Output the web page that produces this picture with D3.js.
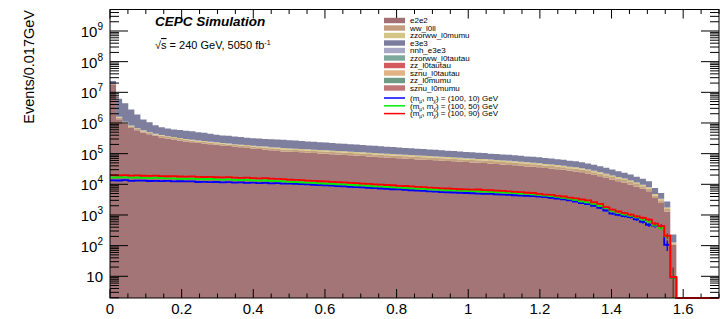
<!DOCTYPE html>
<html>
<head>
<meta charset="utf-8">
<script src="https://cdn.jsdelivr.net/npm/d3@7"></script>
<style>
  body { margin: 0; background: #fff; }
  text { font-family: "Liberation Sans", Arial, Helvetica, sans-serif; }
</style>
</head>
<body>
<div id="chart"></div>
<script>
// ---- data (bins of 0.017 GeV starting at 0, values listed for bins 0..92, rest empty) ----
const binWidth = 0.017;
const nBins = 100;

// backgrounds, in thousands of events per bin
const e2e2 = [18200, 1320, 955, 692, 575, 490, 427, 380, 339, 309, 288, 269, 251, 234, 224, 214, 204, 195, 186, 178,
  170, 162, 155, 148, 141, 135, 129, 123, 117.5, 115, 113, 110, 107, 104, 101, 98.5, 96, 93.5, 91, 88.5,
  86, 83.5, 81, 79, 76.5, 74.5, 72.5, 70.5, 68.5, 67, 65, 63.5, 62, 60.5, 59, 57.5, 56, 54.5, 53, 51.5,
  50, 49.3, 47, 46, 43.8, 42.9, 41.9, 40, 38.2, 37.3, 35.7, 34, 32.5, 31.1, 29.7, 27.7, 26.4, 24.7, 22.5, 20.5,
  18.3, 16.3, 14.2, 12.6, 11.3, 9.8, 8.4, 7.1, 5.9, 3.57, 2.47, 1.29, 0.107];
const ww_l0ll = [510, 160, 85, 84, 61, 51, 44, 40, 41, 38, 35, 33, 31, 29, 27, 26, 25, 23, 23, 22,
  20, 20, 22, 20, 20, 21, 20, 21, 20, 20, 19, 19, 18.6, 18.3, 18, 17.7, 17.4, 17.1, 16.8, 16.5,
  16.2, 15.9, 15.6, 15.3, 15, 14.7, 14.4, 14.1, 13.8, 13.5, 13.2, 12.9, 12.6, 12.3, 12, 11.7, 11.4, 11.1, 10.8, 10.5,
  10.5, 10.7, 10.2, 10, 9.5, 9.3, 9.1, 8.7, 8.3, 8.1, 7.7, 7.4, 7.1, 6.7, 6.4, 6, 5.8, 5.3, 4.9, 4.4,
  4, 3.5, 3.1, 2.8, 2.5, 2.2, 1.8, 1.6, 1.3, 0.77, 0.53, 0.28, 0.011];
const zzorww_l0mumu = [340, 105, 56, 56, 40, 34, 30, 27, 27, 25, 24, 22, 20, 19, 18, 17, 16, 16, 15, 14,
  14, 13, 14, 14, 13, 14, 13, 14, 14, 13, 13, 12.5, 12.4, 12.2, 12, 11.8, 11.6, 11.4, 11.2, 11,
  10.8, 10.6, 10.4, 10.2, 10, 9.8, 9.6, 9.4, 9.2, 9, 8.8, 8.6, 8.4, 8.2, 8, 7.8, 7.6, 7.4, 7.2, 7,
  7, 7.1, 6.8, 6.6, 6.4, 6.2, 6, 5.8, 5.5, 5.4, 5.2, 4.9, 4.7, 4.5, 4.3, 4, 3.8, 3.6, 3.2, 3,
  2.6, 2.4, 2, 1.8, 1.6, 1.4, 1.2, 1, 0.8, 0.52, 0.36, 0.19, 0.008];
const e3e3 = [4350, 4580, 3270, 1920, 1230, 715, 546, 404, 317, 289, 270, 265, 260, 255, 232, 222, 202, 183, 165, 166,
  159, 152, 140, 134, 135, 132, 133, 130, 131, 127, 122, 117.5, 113, 109.5, 105, 101, 97, 94, 90, 87,
  84, 81, 78, 75.5, 72.5, 70, 67.5, 65, 62.5, 60.5, 58, 56, 54, 52, 50, 48, 46, 44, 43, 41,
  39.5, 37.9, 36, 35.1, 33.6, 32.8, 32.1, 30.6, 29.3, 28.6, 27.3, 26.1, 24.9, 23.8, 22.7, 21.2, 20.2, 18.9, 17.3, 15.8,
  14, 12.5, 10.9, 9.7, 8.6, 7.5, 6.4, 5.4, 4.6, 2.73, 1.89, 0.99, 0.103];

// signal points, events per bin
const sig_100_10 = [13500, 13300, 13600, 12900, 13100, 13200, 12800, 13000, 12700, 12900, 12500, 12600, 12400, 12500, 11900, 12000, 11800, 11900, 11600, 11700,
  11400, 11500, 11200, 11300, 11000, 11100, 10800, 10900, 10600, 10500, 10300, 10100, 9900, 9600, 9400, 9200, 9000, 8700, 8500, 8300,
  8100, 7900, 7700, 7500, 7300, 7100, 6900, 6800, 6600, 6400, 6200, 6100, 5900, 5800, 5600, 5500, 5400, 5300, 5200, 5100,
  5000, 4900, 4850, 4700, 4600, 4500, 4400, 4300, 4200, 4100, 3950, 3850, 3600, 3450, 3250, 3000, 2750, 2450, 2250, 2000,
  1700, 1400, 1100, 1000, 920, 850, 720, 600, 480, 450, 420, 107, 9];
const sig_100_50 = [16600, 17000, 16800, 16400, 16700, 16200, 16000, 16300, 15800, 15500, 15700, 15200, 15000, 15300, 14800, 14600, 14900, 14400, 14200, 14400,
  13900, 13700, 13900, 13400, 13200, 13300, 12900, 12700, 12400, 12000, 11800, 11600, 11300, 11100, 10800, 10500, 10400, 10000, 9900, 9600,
  9300, 9200, 8900, 8600, 8500, 8200, 8000, 7800, 7700, 7400, 7200, 7100, 6900, 6700, 6600, 6400, 6300, 6250, 6100, 6000,
  5900, 5800, 5700, 5600, 5500, 5300, 5200, 5000, 4900, 4700, 4500, 4300, 4100, 3900, 3600, 3400, 3100, 2800, 2600, 2300,
  2000, 1700, 1350, 1200, 1050, 950, 850, 720, 620, 480, 380, 200, 9];
const sig_100_90 = [20000, 19600, 19900, 19300, 19500, 19000, 18800, 19100, 18500, 18300, 18600, 18000, 17800, 18100, 17500, 17300, 17600, 17000, 16800, 17100,
  16500, 16300, 16600, 15900, 15700, 15900, 15300, 15100, 14800, 14100, 13900, 13700, 13200, 13000, 12600, 12500, 12000, 11800, 11500, 11100,
  10900, 10500, 10300, 10000, 9800, 9500, 9300, 8900, 8800, 8500, 8300, 8100, 7800, 7700, 7400, 7300, 7100, 6900, 6800, 6700,
  6760, 6500, 6400, 6200, 6100, 5900, 5700, 5600, 5300, 5200, 4900, 4600, 4500, 4200, 4000, 3700, 3500, 3200, 3000, 2600,
  2300, 1800, 1500, 1300, 1150, 1020, 900, 800, 700, 520, 430, 210, 9.5];

// statistical errors of the signal bins in the tail (bins 80..92)
const errStartBin = 80;
const err_100_10 = [120, 110, 100, 100, 95, 90, 85, 80, 75, 70, 70, 40, 9];
const err_100_50 = [130, 120, 110, 100, 100, 95, 90, 85, 80, 70, 60, 45, 9];
const err_100_90 = [140, 125, 115, 110, 105, 100, 95, 90, 85, 75, 65, 45, 10];

const bgKeys = ["e2e2", "ww_l0ll", "zzorww_l0mumu", "e3e3"];
const bgArrays = { e2e2, ww_l0ll, zzorww_l0mumu, e3e3 };

// legend entries (all samples)
const legendNames = ["e2e2", "ww_l0ll", "zzorww_l0mumu", "e3e3", "nnh_e3e3", "zzorww_l0tautau",
  "zz_l0tautau", "sznu_l0tautau", "zz_l0mumu", "sznu_l0mumu"];
const legendColors = ["#a26f72", "#c39d7e", "#d3c585", "#7b7b9e", "#a9a7c6", "#7fa89c",
  "#d45b5b", "#e2b383", "#6f9b84", "#c07676"];
const sigLabels = ["(100, 10) GeV", "(100, 50) GeV", "(100, 90) GeV"];
const sigColors = ["#0000ff", "#00ee00", "#ff0000"];

const xTickLabels = ["0", "0.2", "0.4", "0.6", "0.8", "1", "1.2", "1.4", "1.6"];
const yTickExp = [1, 2, 3, 4, 5, 6, 7, 8, 9];

// colours of the filled stack (as they look in the plot)
const fillColor = { e2e2: "#a37576", ww_l0ll: "#c6a47f", zzorww_l0mumu: "#d6c68a", e3e3: "#7e7e9f" };

// ---- layout ----
const W = 720, H = 319;
const frame = { left: 110, right: 719, top: 9.5, bottom: 298 };

const svg = d3.select("#chart").append("svg")
  .attr("width", W).attr("height", H)
  .style("display", "block");

const x = d3.scaleLinear().domain([0, 1.7]).range([frame.left, frame.right]);
const y = d3.scaleLog().domain([1.96, 5.02e9]).range([frame.bottom, frame.top]).clamp(true);
const yc = v => v > 0 ? y(v) : frame.bottom;

svg.append("clipPath").attr("id", "frameclip")
  .append("rect")
  .attr("x", frame.left).attr("y", frame.top)
  .attr("width", frame.right - frame.left).attr("height", frame.bottom - frame.top + 1.5);

const plot = svg.append("g").attr("clip-path", "url(#frameclip)");

// stacked backgrounds
const nFilled = e2e2.length;
const rows = [];
for (let i = 0; i < nFilled; i++) {
  const r = { x0: i * binWidth };
  bgKeys.forEach(k => r[k] = bgArrays[k][i] * 1000);
  rows.push(r);
}
const stacked = d3.stack().keys(bgKeys)(rows);

const area = d3.area()
  .x(d => x(d.x))
  .y0(d => yc(d.lo))
  .y1(d => yc(d.hi))
  .curve(d3.curveStepAfter);

stacked.forEach(layer => {
  const pts = layer.map(d => ({ x: d.data.x0, lo: d[0], hi: d[1] }));
  const last = pts[pts.length - 1];
  pts.push({ x: last.x + binWidth, lo: last.lo, hi: last.hi });
  plot.append("path")
    .attr("d", area(pts))
    .attr("fill", fillColor[layer.key])
    .attr("stroke", "none");
});

// signal histograms (outline + tail error bars)
const line = d3.line()
  .x(d => x(d.x))
  .y(d => yc(d.v))
  .curve(d3.curveStepAfter);

const sigArrays = [sig_100_10, sig_100_50, sig_100_90];
const errArrays = [err_100_10, err_100_50, err_100_90];
sigArrays.forEach((arr, s) => {
  const pts = [];
  for (let i = 0; i < nBins; i++) pts.push({ x: i * binWidth, v: i < arr.length ? arr[i] : 0 });
  pts.push({ x: nBins * binWidth, v: 0 });
  plot.append("path")
    .attr("d", line(pts))
    .attr("fill", "none")
    .attr("stroke", sigColors[s])
    .attr("stroke-width", 1.8);

  errArrays[s].forEach((e, j) => {
    const i = errStartBin + j;
    const cx = x((i + 0.5) * binWidth);
    plot.append("line")
      .attr("x1", cx).attr("x2", cx)
      .attr("y1", yc(arr[i] - e)).attr("y2", yc(arr[i] + e))
      .attr("stroke", sigColors[s])
      .attr("stroke-width", 1.3);
  });
});

// ---- frame and ticks ----
const axes = svg.append("g").attr("stroke", "#000").attr("stroke-width", 1);
axes.append("rect")
  .attr("x", frame.left).attr("y", frame.top)
  .attr("width", frame.right - frame.left).attr("height", frame.bottom - frame.top)
  .attr("fill", "none");

// x ticks, bottom and top
for (let k = 0; k <= 34; k++) {
  const v = k * 0.05;
  const major = k % 4 === 0;
  const len = major ? 9 : 4.5;
  const px = x(v);
  axes.append("line").attr("x1", px).attr("x2", px).attr("y1", frame.bottom).attr("y2", frame.bottom - len);
  axes.append("line").attr("x1", px).attr("x2", px).attr("y1", frame.top).attr("y2", frame.top + len);
}
xTickLabels.forEach((t, i) => {
  svg.append("text")
    .attr("x", x(i * 0.2)).attr("y", 314)
    .attr("text-anchor", "middle")
    .style("font-size", "15px")
    .text(t);
});

// y ticks (log), left and right
const [ymin, ymax] = y.domain();
for (let e = 0; e <= 9; e++) {
  for (let m = 1; m <= 9; m++) {
    const v = m * Math.pow(10, e);
    if (v < ymin || v > ymax) continue;
    const len = m === 1 ? 18 : 9;
    const py = y(v);
    axes.append("line").attr("x1", frame.left).attr("x2", frame.left + len).attr("y1", py).attr("y2", py);
    axes.append("line").attr("x1", frame.right).attr("x2", frame.right - len).attr("y1", py).attr("y2", py);
  }
}
yTickExp.forEach(e => {
  const t = svg.append("text")
    .attr("x", 103).attr("y", y(Math.pow(10, e)) + 6)
    .attr("text-anchor", "end")
    .style("font-size", "15px");
  t.append("tspan").text("10");
  if (e > 1) t.append("tspan").attr("dy", -7).style("font-size", "10px").text(e);
});

// y axis title
svg.append("text")
  .attr("transform", "translate(34,10) rotate(-90)")
  .attr("text-anchor", "end")
  .style("font-size", "14.5px")
  .text("Events/0.017GeV");

// ---- labels ----
svg.append("text")
  .attr("x", 155).attr("y", 26)
  .style("font-size", "13.5px").style("font-weight", "bold").style("font-style", "italic")
  .text("CEPC Simulation");

const lumi = svg.append("text").attr("x", 155).attr("y", 49).style("font-size", "11px");
lumi.append("tspan").text("√");
lumi.append("tspan").style("text-decoration", "overline").text("s");
lumi.append("tspan").text(" = 240 GeV, 5050 fb");
lumi.append("tspan").attr("dy", -4).style("font-size", "7px").text("-1");

// ---- legend ----
const leg = svg.append("g");
const legX = 384, rowH = 7.5, legY0 = 20.5;
legendNames.forEach((name, i) => {
  const cy = legY0 + i * rowH;
  leg.append("rect")
    .attr("x", legX).attr("y", cy - 2.7)
    .attr("width", 21).attr("height", 5.4)
    .attr("fill", legendColors[i]);
  leg.append("text")
    .attr("x", legX + 26).attr("y", cy + 2.8)
    .style("font-size", "8px")
    .text(name);
});
sigLabels.forEach((lab, s) => {
  const cy = legY0 + legendNames.length * rowH + 2.5 + s * 7.8;
  leg.append("line")
    .attr("x1", legX).attr("x2", legX + 21)
    .attr("y1", cy).attr("y2", cy)
    .attr("stroke", sigColors[s]).attr("stroke-width", 1.5);
  const t = leg.append("text")
    .attr("x", legX + 26).attr("y", cy + 2.8)
    .style("font-size", "8px");
  t.append("tspan").text("(m");
  t.append("tspan").attr("dy", 2).style("font-size", "5px").text("μ̃");
  t.append("tspan").attr("dy", -2).text(", m");
  t.append("tspan").attr("dy", 2).style("font-size", "5px").text("χ̃");
  t.append("tspan").attr("dy", -2).text(") = " + lab);
});
</script>
</body>
</html>
